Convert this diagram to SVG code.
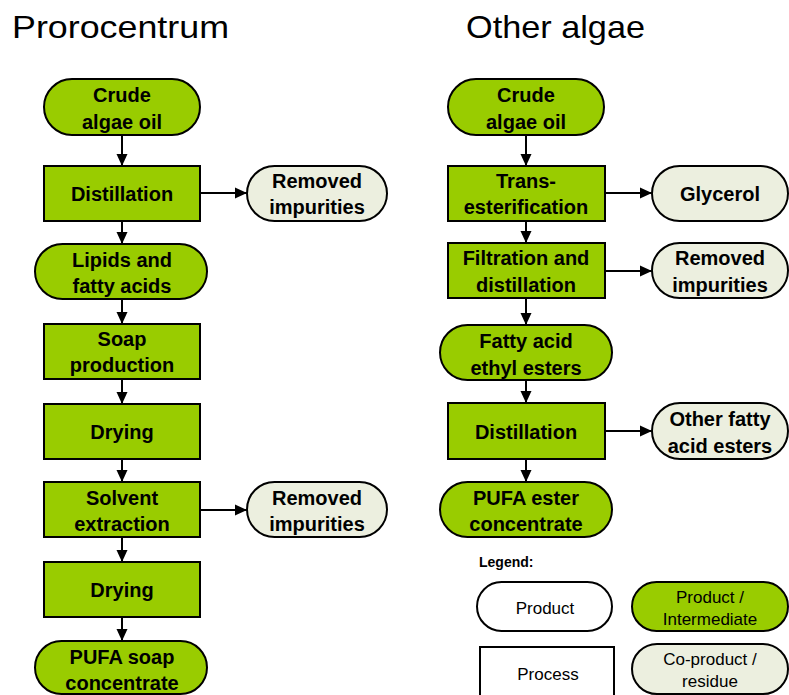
<svg xmlns="http://www.w3.org/2000/svg" width="789" height="695" viewBox="0 0 789 695">
<defs>
<marker id="ah" markerWidth="12" markerHeight="12" refX="12" refY="6" orient="auto" markerUnits="userSpaceOnUse">
<path d="M0,0.5 L12,6 L0,11.5 Z" fill="#000"/>
</marker>
<style>
.t{font-family:"Liberation Sans",Arial,sans-serif;font-size:32px;fill:#000}
.n{font-family:"Liberation Sans",Arial,sans-serif;font-size:20px;font-weight:bold;fill:#000;text-anchor:middle}
.l{font-family:"Liberation Sans",Arial,sans-serif;font-size:17px;fill:#000;text-anchor:middle}
.lg{font-family:"Liberation Sans",Arial,sans-serif;font-size:14px;font-weight:bold;fill:#000}
.g{fill:#99CC00;stroke:#000;stroke-width:2}
.c{fill:#ECEFDF;stroke:#000;stroke-width:2}
.w{fill:#fff;stroke:#000;stroke-width:2}
.e{stroke:#000;stroke-width:2;fill:none;marker-end:url(#ah)}
</style>
</defs>
<rect width="789" height="695" fill="#fff"/>
<text class="t" x="12" y="38" textLength="217" lengthAdjust="spacingAndGlyphs">Prorocentrum</text>
<text class="t" x="466" y="38" textLength="179" lengthAdjust="spacingAndGlyphs">Other algae</text>

<g id="connectors">
<line class="e" x1="122" y1="135" x2="122" y2="166"/>
<line class="e" x1="122" y1="221" x2="122" y2="244"/>
<line class="e" x1="122" y1="299" x2="122" y2="324"/>
<line class="e" x1="122" y1="379" x2="122" y2="404"/>
<line class="e" x1="122" y1="459" x2="122" y2="482"/>
<line class="e" x1="122" y1="537" x2="122" y2="562"/>
<line class="e" x1="122" y1="617" x2="122" y2="641"/>
<line class="e" x1="200" y1="193" x2="247" y2="193"/>
<line class="e" x1="200" y1="510" x2="247" y2="510"/>
<line class="e" x1="526" y1="135" x2="526" y2="166"/>
<line class="e" x1="526" y1="221" x2="526" y2="243"/>
<line class="e" x1="526" y1="298" x2="526" y2="325"/>
<line class="e" x1="526" y1="380" x2="526" y2="403"/>
<line class="e" x1="526" y1="459" x2="526" y2="482"/>
<line class="e" x1="605" y1="193" x2="652" y2="193"/>
<line class="e" x1="605" y1="271" x2="652" y2="271"/>
<line class="e" x1="605" y1="431" x2="652" y2="431"/>
</g>

<g id="p_crude"><rect class="g" x="44" y="79" width="156" height="56" rx="28"/><text class="n" x="122" y="102">Crude</text><text class="n" x="122" y="129">algae oil</text></g>
<g id="p_distillation"><rect class="g" x="44" y="166" width="156" height="55"/><text class="n" x="122" y="201">Distillation</text></g>
<g id="p_removed1"><rect class="c" x="247" y="166" width="140" height="55" rx="27.5"/><text class="n" x="317" y="188">Removed</text><text class="n" x="317" y="214">impurities</text></g>
<g id="p_lipids"><rect class="g" x="35" y="244" width="172" height="55" rx="27.5"/><text class="n" x="122" y="267">Lipids and</text><text class="n" x="122" y="293">fatty acids</text></g>
<g id="p_soap"><rect class="g" x="44" y="324" width="156" height="55"/><text class="n" x="122" y="346">Soap</text><text class="n" x="122" y="372">production</text></g>
<g id="p_drying1"><rect class="g" x="44" y="404" width="156" height="55"/><text class="n" x="122" y="439">Drying</text></g>
<g id="p_solvent"><rect class="g" x="44" y="482" width="156" height="55"/><text class="n" x="122" y="505">Solvent</text><text class="n" x="122" y="531">extraction</text></g>
<g id="p_removed2"><rect class="c" x="247" y="482" width="140" height="55" rx="27.5"/><text class="n" x="317" y="505">Removed</text><text class="n" x="317" y="531">impurities</text></g>
<g id="p_drying2"><rect class="g" x="44" y="562" width="156" height="55"/><text class="n" x="122" y="597">Drying</text></g>
<g id="p_pufa"><rect class="g" x="35" y="641" width="172" height="53" rx="26.5"/><text class="n" x="122" y="664">PUFA soap</text><text class="n" x="122" y="690">concentrate</text></g>

<g id="o_crude"><rect class="g" x="448" y="79" width="156" height="56" rx="28"/><text class="n" x="526" y="102">Crude</text><text class="n" x="526" y="129">algae oil</text></g>
<g id="o_trans"><rect class="g" x="448" y="166" width="157" height="55"/><text class="n" x="526" y="188">Trans-</text><text class="n" x="526" y="214">esterification</text></g>
<g id="o_glycerol"><rect class="c" x="652" y="166" width="136" height="55" rx="27.5"/><text class="n" x="720" y="201">Glycerol</text></g>
<g id="o_filtration"><rect class="g" x="448" y="243" width="157" height="55"/><text class="n" x="526" y="265">Filtration and</text><text class="n" x="526" y="292">distillation</text></g>
<g id="o_removed"><rect class="c" x="652" y="243" width="136" height="55" rx="27.5"/><text class="n" x="720" y="265">Removed</text><text class="n" x="720" y="292">impurities</text></g>
<g id="o_fatty"><rect class="g" x="440" y="325" width="172" height="55" rx="27.5"/><text class="n" x="526" y="348">Fatty acid</text><text class="n" x="526" y="375">ethyl esters</text></g>
<g id="o_distillation"><rect class="g" x="448" y="403" width="157" height="56"/><text class="n" x="526" y="439">Distillation</text></g>
<g id="o_other"><rect class="c" x="652" y="403" width="136" height="56" rx="28"/><text class="n" x="720" y="426">Other fatty</text><text class="n" x="720" y="453">acid esters</text></g>
<g id="o_pufa"><rect class="g" x="440" y="482" width="172" height="55" rx="27.5"/><text class="n" x="526" y="505">PUFA ester</text><text class="n" x="526" y="531">concentrate</text></g>

<g id="legend">
<text class="lg" x="479" y="567">Legend:</text>
<g id="leg_product"><rect class="w" x="477" y="582" width="135" height="49" rx="24.5"/><text class="l" x="545" y="614">Product</text></g>
<g id="leg_intermediate"><rect class="g" x="632" y="582" width="156" height="49" rx="24.5"/><text class="l" x="710" y="603">Product /</text><text class="l" x="710" y="625">Intermediate</text></g>
<g id="leg_process"><rect class="w" x="480" y="647" width="134" height="60"/><text class="l" x="548" y="680">Process</text></g>
<g id="leg_coproduct"><rect class="c" x="632" y="644" width="156" height="50" rx="25"/><text class="l" x="710" y="665">Co-product /</text><text class="l" x="710" y="687">residue</text></g>
</g>
</svg>
